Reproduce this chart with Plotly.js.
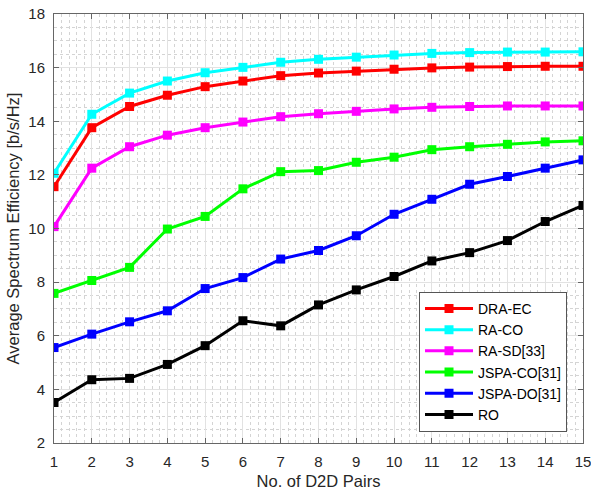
<!DOCTYPE html>
<html>
<head>
<meta charset="utf-8">
<script src="https://cdn.plot.ly/plotly-3.0.1.min.js"></script>
<style>html,body{margin:0;padding:0;background:#fff;}#chart{width:591px;height:499px;}</style>
</head>
<body>
<div id="chart"></div>
<script>
const pairs = [1,2,3,4,5,6,7,8,9,10,11,12,13,14,15];
const draEC   = [11.56,13.76,14.55,14.97,15.29,15.50,15.70,15.80,15.87,15.94,15.99,16.02,16.04,16.05,16.05];
const raCO    = [12.06,14.26,15.05,15.50,15.81,16.01,16.20,16.31,16.39,16.47,16.53,16.56,16.58,16.58,16.59];
const raSD    = [10.07,12.25,13.05,13.48,13.76,13.97,14.17,14.28,14.37,14.46,14.52,14.55,14.57,14.57,14.57];
const jspaCO  = [7.58,8.06,8.55,9.98,10.45,11.48,12.12,12.16,12.47,12.66,12.94,13.05,13.14,13.23,13.27];
const jspaDO  = [5.56,6.06,6.52,6.93,7.76,8.17,8.86,9.18,9.73,10.53,11.09,11.65,11.94,12.25,12.56];
const ro      = [3.51,4.36,4.41,4.93,5.63,6.56,6.37,7.15,7.71,8.21,8.79,9.10,9.55,10.26,10.86];

const names  = ['DRA-EC','RA-CO','RA-SD[33]','JSPA-CO[31]','JSPA-DO[31]','RO'];
const series = [draEC, raCO, raSD, jspaCO, jspaDO, ro];
const colors = ['#ff0000','#00ffff','#ff00ff','#00ff00','#0000ff','#000000'];

const traces = series.map((ys, i) => ({
  x: pairs, y: ys, name: names[i], type: 'scatter', mode: 'lines+markers',
  line: {color: colors[i], width: 3},
  marker: {symbol: 'square', size: 9, color: colors[i]}
}));

const FONT = 'Liberation Sans, Arial, sans-serif';
const axisCommon = {
  showline: true, linecolor: '#666666', linewidth: 1, mirror: 'ticks',
  ticks: 'inside', ticklen: 5, tickcolor: '#666666',
  showgrid: true, gridcolor: '#e2e2e2', gridwidth: 1,
  zeroline: false, ticklabeloverflow: 'allow',
  tickfont: {family: FONT, size: 15, color: '#262626'}
};

const layout = {
  width: 591, height: 499,
  margin: {l: 54, r: 8, t: 14, b: 56},
  paper_bgcolor: '#ffffff', plot_bgcolor: '#ffffff',
  showlegend: true,
  xaxis: Object.assign({}, axisCommon, {
    range: [1, 15], tickmode: 'linear', tick0: 1, dtick: 1,
    ticklabelstandoff: 5,
    minor: {dtick: 0.2, showgrid: true, gridcolor: '#d4d4d4', griddash: 'dot', gridwidth: 1},
    title: {text: 'No. of D2D Pairs', standoff: 6,
            font: {family: FONT, size: 16.5, color: '#262626'}}
  }),
  yaxis: Object.assign({}, axisCommon, {
    range: [2, 18], tickmode: 'linear', tick0: 2, dtick: 2,
    ticklabelstandoff: 5,
    minor: {dtick: 0.5, showgrid: true, gridcolor: '#d4d4d4', griddash: 'dot', gridwidth: 1},
    title: {text: 'Average Spectrum Efficiency [b/s/Hz]', standoff: 4,
            font: {family: FONT, size: 16.5, color: '#262626'}}
  }),
  legend: {
    x: 0.69, y: 0.026, xanchor: 'left', yanchor: 'bottom',
    bgcolor: '#ffffff', bordercolor: '#555555', borderwidth: 1,
    font: {family: FONT, size: 14, color: '#000000'},
    itemwidth: 48, tracegroupgap: 0
  }
};

Plotly.newPlot('chart', traces, layout, {displayModeBar: false, staticPlot: true});
</script>
</body>
</html>
